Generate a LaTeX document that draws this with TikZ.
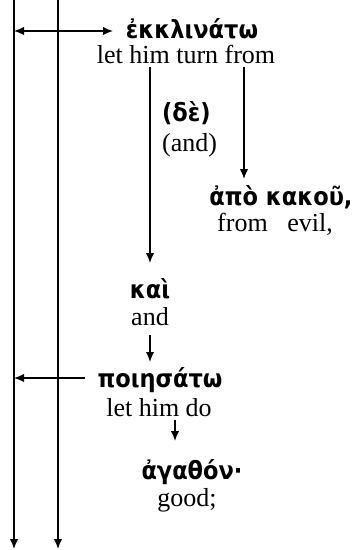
\documentclass[tikz,border=0pt]{standalone}
\usepackage{fontspec}
\setmainfont{Liberation Serif}
\newfontfamily\gk{DejaVu Sans Condensed}
\usetikzlibrary{arrows.meta}
\begin{document}
\begin{tikzpicture}[x=1pt,y=1pt,
  arr/.style={line width=1.5pt,-{Latex[length=10pt,width=8.5pt]}},
  darr/.style={line width=1.5pt,{Latex[length=10pt,width=8.5pt]}-{Latex[length=10pt,width=8.5pt]}},
  gr/.style={font=\gk\bfseries\fontsize{25}{29}\selectfont,inner sep=0pt,anchor=base},
  en/.style={font=\fontsize{26}{30}\selectfont,inner sep=0pt,anchor=base}]
\useasboundingbox (0,0) rectangle (352,-550);
% vertical lines
\coordinate (l1t) at (14,0);
\coordinate (l1b) at (14,-549);
\coordinate (l2t) at (58,0);
\coordinate (l2b) at (58,-549);
\draw[arr] (l1t) -- (l1b);
\draw[arr] (l2t) -- (l2b);
% texts
\node[gr] (g1) at (192,-38) {ἐκκλινάτω};
\node[en] (e1) at (186,-63) {let him turn from};
\node[gr,anchor=base west] (g2) at (162,-121) {(δὲ)};
\node[en,anchor=base west] (e2) at (162,-151) {(and)};
\node[gr] (g3) at (281,-205) {ἀπὸ κακοῦ,};
\node[en] (e3) at (275,-231) {from\ \ \ evil,};
\node[gr] (g4) at (150,-298) {καὶ};
\node[en] (e4) at (150,-325) {and};
\node[gr] (g5) at (160,-387) {ποιησάτω};
\node[en] (e5) at (159,-416) {let him do};
\node[gr] (g6) at (192,-479) {ἀγαθόν·};
\node[en] (e6) at (187,-506) {good;};
% connectors
\coordinate (h1) at (113,-31);
\draw[darr] (l1t |- h1) -- (h1);
\coordinate (s1) at (150,-67);
\coordinate (s2) at (244,-67);
\coordinate (t1) at (150,-263);
\coordinate (t2) at (244,-179);
\draw[arr] (s1) -- (t1);
\draw[arr] (s2) -- (t2);
\coordinate (s3) at (150,-335);
\coordinate (t3) at (150,-362);
\draw[arr] (s3) -- (t3);
\coordinate (h2) at (85,-378);
\draw[arr] (h2) -- (l1t |- h2);
\coordinate (s4) at (175,-420);
\coordinate (t4) at (175,-441);
\draw[arr] (s4) -- (t4);
\end{tikzpicture}
\end{document}
